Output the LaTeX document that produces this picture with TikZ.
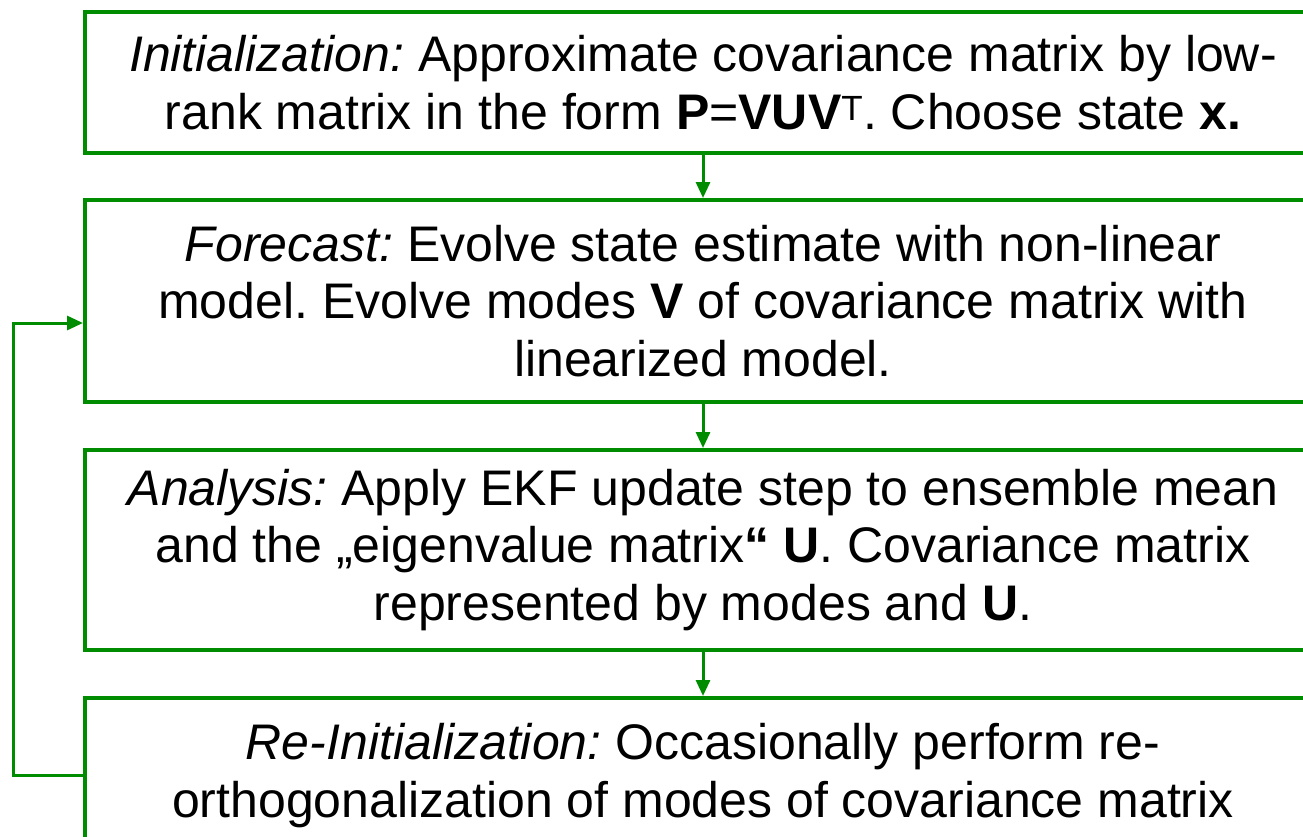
\documentclass[tikz,border=0pt]{standalone}
\usepackage{fontspec}
\setmainfont{Liberation Sans}
\usetikzlibrary{arrows.meta}
\definecolor{flowgreen}{RGB}{0,140,0}
\frenchspacing
\begin{document}
\begin{tikzpicture}[x=1pt,y=-1pt,
  stepbox/.style={draw=flowgreen, line width=4pt, inner sep=0pt,
    minimum width=1236pt, align=center,
    font=\fontsize{50}{57.5}\selectfont\frenchspacing},
  flow/.style={draw=flowgreen, line width=3pt,
    -{Triangle[length=16pt,width=14pt]}}]
\useasboundingbox (0,0) rectangle (1303,836);
\clip (0,0) rectangle (1303,836);

\node[stepbox, minimum height=141pt] (init) at (703,82.5)
  {\textit{Initialization:} Approximate covariance matrix by low-\\
   rank matrix in the form \textbf{P}=\textbf{VUV}\textsuperscript{T}. Choose state \textbf{x.}};

\node[stepbox, minimum height=202pt] (fore) at (703,301)
  {\textit{Forecast:} Evolve state estimate with non-linear\\
   model. Evolve modes \textbf{V} of covariance matrix with\\
   linearized model.};

\node[stepbox, minimum height=200pt] (anal) at (703,550)
  {\textit{Analysis:} Apply EKF update step to ensemble mean\\
   and the „eigenvalue matrix\textbf{“} \textbf{U}. Covariance matrix\\
   represented by modes and \textbf{U}.};

\node[stepbox, minimum height=202pt] (reinit) at (703,799)
  {\textit{Re-Initialization:} Occasionally perform re-\\
   orthogonalization of modes of covariance matrix\\
   \mbox{}};

\draw[flow] (init.south) -- (fore.north);
\draw[flow] (fore.south) -- (anal.north);
\draw[flow] (anal.south) -- (reinit.north);
\draw[flow] ([yshift=24pt]reinit.west) -- ++(-70,0) |- ([yshift=-22pt]fore.west);
\end{tikzpicture}
\end{document}
